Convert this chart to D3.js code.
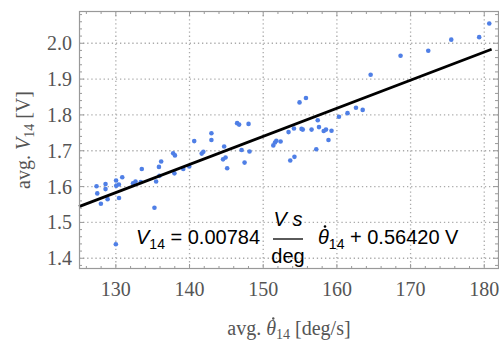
<!DOCTYPE html>
<html><head><meta charset="utf-8">
<script src="https://cdn.jsdelivr.net/npm/d3@7"></script>
<style>body{margin:0;background:#fff}svg{display:block}</style>
</head><body>
<svg id="c" width="499" height="345"></svg>
<script>
const theta = [127.38,127.48,127.97,128.60,128.60,128.88,130.03,130.05,130.41,130.43,130.87,130.00,
132.33,132.67,133.39,133.52,135.24,135.47,135.85,135.92,136.15,137.78,138.02,137.95,139.15,139.96,
140.64,141.65,141.88,142.97,142.97,144.55,144.70,144.89,145.11,146.46,146.73,147.07,147.47,148.01,148.14,
151.37,151.60,151.78,152.36,153.44,154.17,154.93,155.80,153.67,154.24,155.37,155.2,156.56,157.20,157.40,
157.57,158.21,158.52,158.86,159.27,160.28,161.44,162.59,163.50,164.58,168.64,172.40,175.52,179.31,180.68];
const volts = [1.601,1.581,1.552,1.607,1.593,1.565,1.617,1.602,1.606,1.568,1.626,1.439,
1.609,1.614,1.613,1.649,1.541,1.614,1.655,1.630,1.670,1.693,1.687,1.637,1.649,1.656,
1.727,1.692,1.697,1.749,1.730,1.676,1.712,1.681,1.651,1.777,1.773,1.702,1.667,1.775,1.698,
1.715,1.723,1.728,1.726,1.752,1.762,1.835,1.847,1.673,1.683,1.759,1.761,1.759,1.704,1.785,
1.766,1.755,1.759,1.730,1.756,1.795,1.805,1.820,1.814,1.912,1.965,1.979,2.010,2.017,2.055];
const slope = 0.00784, intercept = 0.56420;
const fitRange = [125, 181];
const xTicks = [130,140,150,160,170,180];
const yTicks = [1.4,1.5,1.6,1.7,1.8,1.9,2.0];

const svg = d3.select("#c");
const L=79, R=499, T=11, B=269;
const x = d3.scaleLinear().domain([125,182]).range([L,R]);
const y = d3.scaleLinear().domain([1.37,2.09]).range([B,T]);
const gray="#999", tcol="#555";

// grid
const grid = svg.append("g").attr("stroke","#aaa").attr("stroke-width",1.3).attr("stroke-dasharray","1.3,2.8");
xTicks.forEach(v=>grid.append("line").attr("x1",x(v)).attr("x2",x(v)).attr("y1",T).attr("y2",B));
yTicks.forEach(v=>grid.append("line").attr("y1",y(v)).attr("y2",y(v)).attr("x1",L).attr("x2",R));

// points
svg.append("g").selectAll("circle").data(theta).join("circle")
  .attr("cx",(d)=>x(d)).attr("cy",(d,i)=>y(volts[i])).attr("r",2.3).attr("fill","#4f7fe6");

// fit line
svg.append("line").attr("x1",x(fitRange[0])).attr("y1",y(slope*fitRange[0]+intercept))
  .attr("x2",x(fitRange[1])).attr("y2",y(slope*fitRange[1]+intercept))
  .attr("stroke","#000").attr("stroke-width",2.8);

// frame & ticks
const fr = svg.append("g").attr("stroke",gray).attr("fill","none");
fr.append("rect").attr("x",L+0.5).attr("y",T+0.5).attr("width",R-L-1).attr("height",B-T-1).attr("stroke-width",1.2);
const xMinor = d3.range(126,182.01,2);
const yMinor = d3.range(1.38,2.081,0.02);
xMinor.forEach(v=>{const maj = Math.abs(v/10-Math.round(v/10))<1e-6; const len=maj?5:3;
  fr.append("line").attr("x1",x(v)).attr("x2",x(v)).attr("y1",B).attr("y2",B-len);
  fr.append("line").attr("x1",x(v)).attr("x2",x(v)).attr("y1",T).attr("y2",T+len);});
yMinor.forEach(v=>{const maj = Math.abs(v*10-Math.round(v*10))<1e-6; const len=maj?5:3;
  fr.append("line").attr("y1",y(v)).attr("y2",y(v)).attr("x1",L).attr("x2",L+len);
  fr.append("line").attr("y1",y(v)).attr("y2",y(v)).attr("x1",R-1).attr("x2",R-1-len);});

// tick labels
const serif = "'Liberation Serif','Times New Roman',serif";
svg.append("g").selectAll("text").data(xTicks).join("text")
  .attr("x",d=>x(d)).attr("y",B+27).attr("text-anchor","middle")
  .attr("font-family",serif).attr("font-size",20).attr("fill",tcol).text(d=>d);
svg.append("g").selectAll("text").data(yTicks).join("text")
  .attr("x",L-7).attr("y",d=>y(d)+7).attr("text-anchor","end")
  .attr("font-family",serif).attr("font-size",20).attr("fill",tcol).text(d=>d3.format(".1f")(d));

// helper: put a dot accent above a tspan (drawn as a tiny circle), at a given height above baseline
function dotAbove(tspan, color, dx, baseline, up, r){
  const bb = tspan.node().getBBox();
  svg.append("circle").attr("cx",bb.x+bb.width/2+dx).attr("cy",baseline-up).attr("r",r).attr("fill",color);
}

// axis titles
const xt = svg.append("text").attr("x",(L+R)/2).attr("y",335).attr("text-anchor","middle")
  .attr("font-family",serif).attr("font-size",20).attr("fill",tcol);
xt.append("tspan").text("avg. ");
const xth = xt.append("tspan").attr("font-style","italic").text("\u03B8");
xt.append("tspan").attr("font-size",14).attr("dy",4).text("14");
xt.append("tspan").attr("dy",-4).text(" [deg/s]");
dotAbove(xth, tcol, 2, 335, 16.5, 1.2);

const yt = svg.append("text").attr("transform",`translate(30,${(T+B)/2}) rotate(-90)`).attr("text-anchor","middle")
  .attr("font-family",serif).attr("font-size",20).attr("fill",tcol);
yt.append("tspan").text("avg. ");
yt.append("tspan").attr("font-style","italic").text("V");
yt.append("tspan").attr("font-size",14).attr("dy",4).text("14");
yt.append("tspan").attr("dy",-4).text(" [V]");

// equation
const sans = "'Liberation Sans',Arial,sans-serif";
const fs = 20;
const e1 = svg.append("text").attr("x",136).attr("y",244).attr("font-family",sans).attr("font-size",fs).attr("fill","#000");
e1.append("tspan").attr("font-style","italic").text("V");
e1.append("tspan").attr("font-size",14).attr("dy",5).text("14");
e1.append("tspan").attr("dy",-5).text(" = 0.00784");
const fx = 288;
svg.append("text").attr("x",fx).attr("y",226).attr("text-anchor","middle").attr("font-family",sans).attr("font-size",fs).attr("font-style","italic").text("V s");
svg.append("line").attr("x1",273).attr("x2",303).attr("y1",239).attr("y2",239).attr("stroke","#000").attr("stroke-width",1.3);
svg.append("text").attr("x",fx).attr("y",263).attr("text-anchor","middle").attr("font-family",sans).attr("font-size",fs).text("deg");
const e2 = svg.append("text").attr("x",318).attr("y",244).attr("font-family",sans).attr("font-size",fs).attr("fill","#000");
const eth = e2.append("tspan").attr("font-style","italic").text("\u03B8");
e2.append("tspan").attr("font-size",14).attr("dy",5).text("14");
e2.append("tspan").attr("dy",-5).text(" + 0.56420 V");
dotAbove(eth, "#000", 1.5, 244, 17.5, 1.3);
</script>
</body></html>
